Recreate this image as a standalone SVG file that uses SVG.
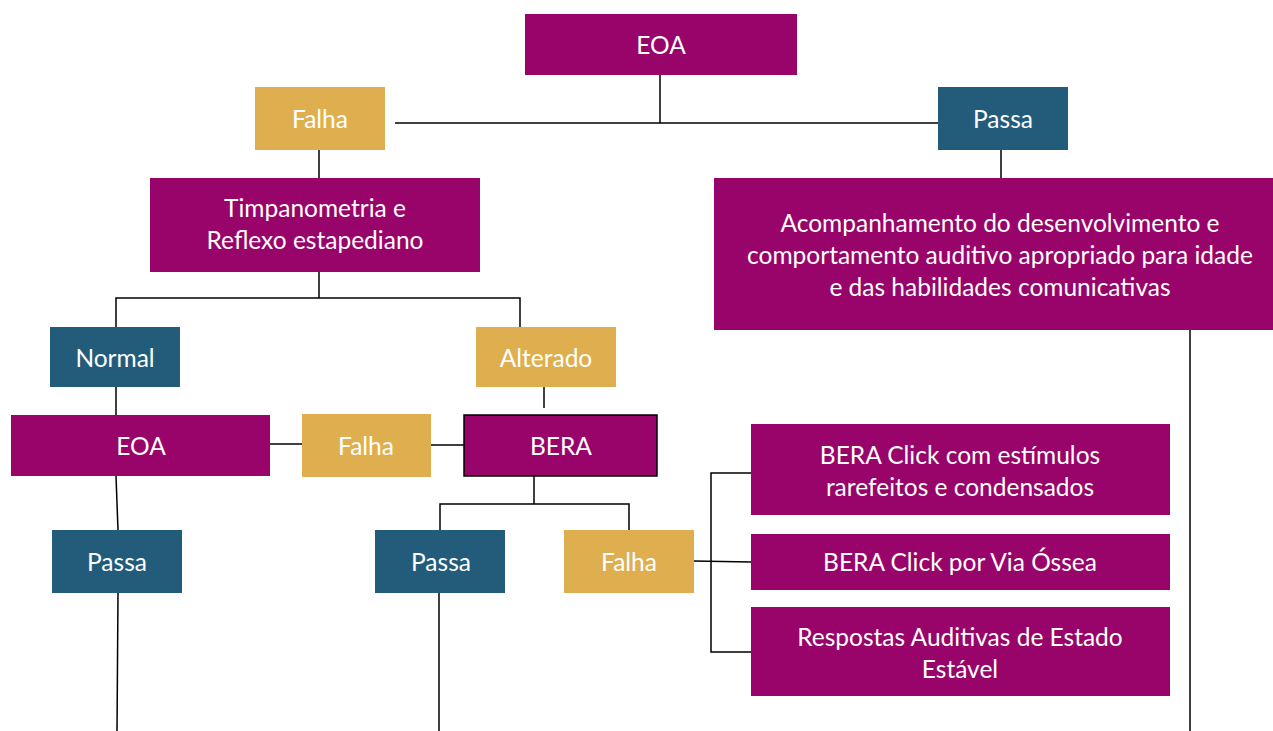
<svg xmlns="http://www.w3.org/2000/svg" width="1273" height="731" viewBox="0 0 1273 731">
<style>
.m{fill:#99046B}
.g{fill:#DFAF4F}
.b{fill:#235B7A}
text{font-family:Lato,"Open Sans","Liberation Sans",sans-serif;font-size:24.5px;fill:#fff;text-anchor:middle;dominant-baseline:central}
.c line,.c path{stroke:#000;stroke-width:1.5;fill:none}
</style>
<rect width="1273" height="731" fill="#fff"/>
<g class="c" id="connectors">
<line x1="660" y1="75" x2="660" y2="123"/>
<line x1="395" y1="123" x2="938" y2="123"/>
<line x1="319" y1="150" x2="319" y2="178"/>
<line x1="1001" y1="150" x2="1001" y2="178"/>
<line x1="319" y1="272" x2="319" y2="298"/>
<path d="M116,327 V298 H520 V327"/>
<line x1="544" y1="387" x2="544" y2="408"/>
<line x1="116" y1="387" x2="116" y2="415"/>
<line x1="270" y1="444" x2="302" y2="444"/>
<line x1="431" y1="445" x2="464" y2="445"/>
<line x1="116" y1="476" x2="118" y2="530"/>
<line x1="118" y1="593" x2="117" y2="731"/>
<line x1="534" y1="476" x2="534" y2="504"/>
<path d="M440,530 V504 H629 V530"/>
<line x1="439" y1="593" x2="439" y2="731"/>
<line x1="694" y1="561" x2="751" y2="562"/>
<path d="M751,473 H711 V652 H751"/>
<line x1="1190" y1="330" x2="1190" y2="731"/>
</g>
<g id="eoa-top"><rect class="m" x="525" y="14" width="272" height="61"/><text x="661" y="44">EOA</text></g>
<g id="falha-top"><rect class="g" x="255" y="87" width="130" height="63"/><text x="320" y="118">Falha</text></g>
<g id="passa-top"><rect class="b" x="938" y="87" width="130" height="63"/><text x="1003" y="118">Passa</text></g>
<g id="timpanometria"><rect class="m" x="150" y="178" width="330" height="94"/><text x="315" y="207">Timpanometria e</text><text x="315" y="239">Reflexo estapediano</text></g>
<g id="acompanhamento"><rect class="m" x="714" y="178" width="559" height="152"/><text x="1000" y="222">Acompanhamento do desenvolvimento e</text><text x="1000" y="254">comportamento auditivo apropriado para idade</text><text x="1000" y="286">e das habilidades comunicativas</text></g>
<g id="normal"><rect class="b" x="50" y="327" width="130" height="60"/><text x="115" y="357">Normal</text></g>
<g id="alterado"><rect class="g" x="476" y="327" width="140" height="60"/><text x="546" y="357">Alterado</text></g>
<g id="eoa-mid"><rect class="m" x="11" y="415" width="259" height="61"/><text x="141" y="445">EOA</text></g>
<g id="falha-mid"><rect class="g" x="302" y="414" width="129" height="63"/><text x="366" y="445">Falha</text></g>
<g id="bera"><rect class="m" x="464" y="415" width="193" height="61" stroke="#000" stroke-width="1.5"/><text x="561" y="445">BERA</text></g>
<g id="passa-left"><rect class="b" x="52" y="530" width="130" height="63"/><text x="117" y="561">Passa</text></g>
<g id="passa-mid"><rect class="b" x="375" y="530" width="130" height="63"/><text x="441" y="561">Passa</text></g>
<g id="falha-bottom"><rect class="g" x="564" y="530" width="130" height="63"/><text x="629" y="561">Falha</text></g>
<g id="bera-click"><rect class="m" x="751" y="424" width="419" height="91"/><text x="960" y="454">BERA Click com estímulos</text><text x="960" y="486">rarefeitos e condensados</text></g>
<g id="bera-ossea"><rect class="m" x="751" y="534" width="419" height="56"/><text x="960" y="561">BERA Click por Via Óssea</text></g>
<g id="respostas"><rect class="m" x="751" y="607" width="419" height="89"/><text x="960" y="636">Respostas Auditivas de Estado</text><text x="960" y="668">Estável</text></g>
</svg>
